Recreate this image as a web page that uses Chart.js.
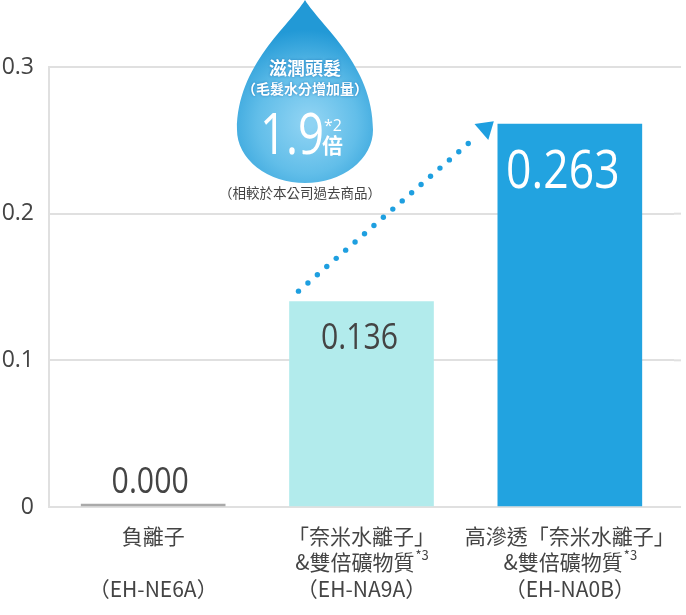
<!DOCTYPE html>
<html lang="zh-Hant">
<head>
<meta charset="UTF-8">
<title>滋潤頭髮（毛髮水分增加量）</title>
<script src="https://cdn.jsdelivr.net/npm/chart.js"></script>
<style>
  body { margin: 0; background: #fff; }
  .wrap { position: relative; width: 686px; height: 615px; }
</style>
</head>
<body>
<div class="wrap"><canvas id="chart"></canvas></div>
<script>
// data
const labelLine1 = ['負離子', '「奈米水離子」', '高滲透「奈米水離子」'];
const labelLine2 = ['', '&雙倍礦物質*3', '&雙倍礦物質*3'];
const models = ['（EH-NE6A）', '（EH-NA9A）', '（EH-NA0B）'];
const values = [0, 0.140, 0.261];
const valueText = ['0.000', '0.136', '0.263'];
const yTicks = [0, 0.1, 0.2, 0.3];

const barColors = ['#aaaaaa', '#b2ebec', '#22a3e0'];
const cjk = '"Noto Sans CJK TC", "Noto Sans CJK SC", sans-serif';
const num = '"Open Sans", "Noto Sans", sans-serif';
const grey = '#444';

// light grid lines run a little past the last bar
const gridTail = {
  id: 'gridTail',
  beforeDatasetsDraw(chart) {
    const { ctx, chartArea } = chart;
    const y = chart.scales.y;
    ctx.save();
    ctx.strokeStyle = '#e0e0e0';
    ctx.lineWidth = 2;
    yTicks.forEach(v => {
      const py = y.getPixelForValue(v);
      ctx.beginPath();
      ctx.moveTo(chartArea.right, py);
      ctx.lineTo(chartArea.right + 7, py);
      ctx.stroke();
    });
    ctx.restore();
  }
};

// numbers on / above the bars
const valueLabels = {
  id: 'valueLabels',
  afterDatasetsDraw(chart) {
    const ctx = chart.ctx;
    const meta = chart.getDatasetMeta(0);
    const y = chart.scales.y;
    const style = [
      { size: 36, color: grey, dy: -14, dx: -3 },
      { size: 36, color: grey, dy: 47, dx: -2 },
      { size: 53, color: '#fff', dy: 64, dx: -7 }
    ];
    meta.data.forEach((bar, i) => {
      const s = style[i];
      ctx.save();
      ctx.font = `400 ${s.size}px ${num}`;
      ctx.fillStyle = s.color;
      ctx.textAlign = 'center';
      ctx.textBaseline = 'alphabetic';
      ctx.translate(bar.x + s.dx, y.getPixelForValue(values[i]) + s.dy);
      ctx.scale(0.84, 1);
      ctx.fillText(valueText[i], 0, 0);
      ctx.restore();
    });
  }
};

// category labels under the axis, with superscript note marks
function drawLine(ctx, text, cx, cy) {
  const star = text.indexOf('*');
  const main = star < 0 ? text : text.slice(0, star);
  const sup = star < 0 ? '' : text.slice(star);
  ctx.font = `400 21px ${cjk}`;
  const wMain = ctx.measureText(main).width;
  ctx.font = `400 13px ${cjk}`;
  const wSup = sup ? ctx.measureText(sup).width : 0;
  let x = cx - (wMain + wSup) / 2;
  ctx.textAlign = 'left';
  ctx.textBaseline = 'middle';
  ctx.font = `400 21px ${cjk}`;
  ctx.fillText(main, x, cy);
  if (sup) {
    ctx.font = `400 13px ${cjk}`;
    ctx.fillText(sup, x + wMain + 1, cy - 7);
  }
}

const xLabels = {
  id: 'xLabels',
  afterDraw(chart) {
    const { ctx, chartArea } = chart;
    const xs = chart.scales.x;
    const rows = [labelLine1, labelLine2, models];
    const offs = [29, 55, 82];
    ctx.save();
    ctx.fillStyle = grey;
    rows.forEach((row, r) => {
      row.forEach((t, i) => {
        if (t) drawLine(ctx, t, xs.getPixelForTick(i), chartArea.bottom + offs[r]);
      });
    });
    ctx.restore();
  }
};

// the water drop callout and the dotted arrow between the two new models
const callout = {
  id: 'callout',
  afterDraw(chart) {
    const ctx = chart.ctx;
    const cx = 305, cy = 130, rx = 68, ry = 53;

    ctx.save();
    ctx.beginPath();
    ctx.moveTo(cx, 0);
    ctx.bezierCurveTo(cx + 15, 25, cx + rx, 65, cx + rx, cy);
    ctx.ellipse(cx, cy, rx, ry, 0, 0, Math.PI);
    ctx.bezierCurveTo(cx - rx, 65, cx - 15, 25, cx, 0);
    ctx.closePath();
    const g = ctx.createRadialGradient(cx + 5, 122, 5, cx, 125, 95);
    g.addColorStop(0, '#8fd3f3');
    g.addColorStop(0.5, '#62bee9');
    g.addColorStop(1, '#2299d6');
    ctx.fillStyle = g;
    ctx.fill();

    ctx.fillStyle = '#fff';
    ctx.textAlign = 'center';
    ctx.textBaseline = 'middle';
    ctx.shadowColor = 'rgba(20,110,180,0.8)';
    ctx.shadowBlur = 3;
    ctx.font = `700 18px ${cjk}`;
    ctx.fillText('滋潤頭髮', cx, 68);
    ctx.font = `700 14px ${cjk}`;
    ctx.fillText('（毛髮水分增加量）', cx, 89);
    ctx.shadowBlur = 0;
    ctx.shadowColor = 'transparent';

    ctx.save();
    ctx.textBaseline = 'alphabetic';
    ctx.translate(292, 154);
    ctx.scale(0.8, 1);
    ctx.font = `400 57px ${num}`;
    ctx.fillText('1.9', 0, 0);
    ctx.restore();

    ctx.textAlign = 'left';
    ctx.textBaseline = 'alphabetic';
    ctx.font = `400 16px ${num}`;
    ctx.fillText('*2', 324, 131);
    ctx.font = `700 21px ${cjk}`;
    ctx.fillText('倍', 322, 153);

    ctx.fillStyle = grey;
    ctx.textAlign = 'center';
    ctx.textBaseline = 'middle';
    ctx.font = `400 13.5px ${cjk}`;
    ctx.fillText('（相較於本公司過去商品）', 300, 193);
    ctx.restore();

    // dotted arrow from bar 2 up to bar 3
    const meta = chart.getDatasetMeta(0);
    const b2 = meta.data[1], b3 = meta.data[2];
    const sx = b2.x - b2.width / 2 + 9, sy = b2.y - 10.5;
    const tx = b3.x - b3.width / 2 - 4, ty = b3.y - 3;
    const len = Math.hypot(tx - sx, ty - sy);
    const ux = (tx - sx) / len, uy = (ty - sy) / len;
    const head = 16.5, half = 10.5, gap = 12.5;
    ctx.save();
    ctx.fillStyle = '#1e9fe0';
    for (let d = 0; d <= len - head - gap + 1; d += gap) {
      ctx.beginPath();
      ctx.arc(sx + ux * d, sy + uy * d, 2.7, 0, Math.PI * 2);
      ctx.fill();
    }
    const bx = tx - ux * head, by = ty - uy * head;
    ctx.beginPath();
    ctx.moveTo(tx, ty);
    ctx.lineTo(bx - uy * half, by + ux * half);
    ctx.lineTo(bx + uy * half, by - ux * half);
    ctx.closePath();
    ctx.fill();
    ctx.restore();
  }
};

new Chart(document.getElementById('chart'), {
  type: 'bar',
  data: {
    labels: labelLine1,
    datasets: [{
      data: values,
      backgroundColor: barColors,
      borderWidth: 0,
      barThickness: 144,
      minBarLength: 3
    }]
  },
  options: {
    responsive: true,
    maintainAspectRatio: false,
    animation: false,
    layout: { padding: { top: 67, right: 12, bottom: 108, left: 0 } },
    plugins: { legend: { display: false }, tooltip: { enabled: false } },
    scales: {
      x: { display: false },
      y: {
        min: 0,
        max: 0.3,
        afterBuildTicks: s => { s.ticks = yTicks.map(v => ({ value: v })); },
        afterFit: s => { s.width = 49; },
        grid: { color: '#e0e0e0', lineWidth: 2, drawTicks: false },
        border: { display: true, color: '#e0e0e0', width: 2 },
        ticks: {
          color: grey,
          padding: 15,
          font: { family: '"Open Sans", "Noto Sans", sans-serif', size: 23 },
          callback: v => String(v)
        }
      }
    }
  },
  plugins: [gridTail, valueLabels, xLabels, callout]
});
</script>
</body>
</html>
